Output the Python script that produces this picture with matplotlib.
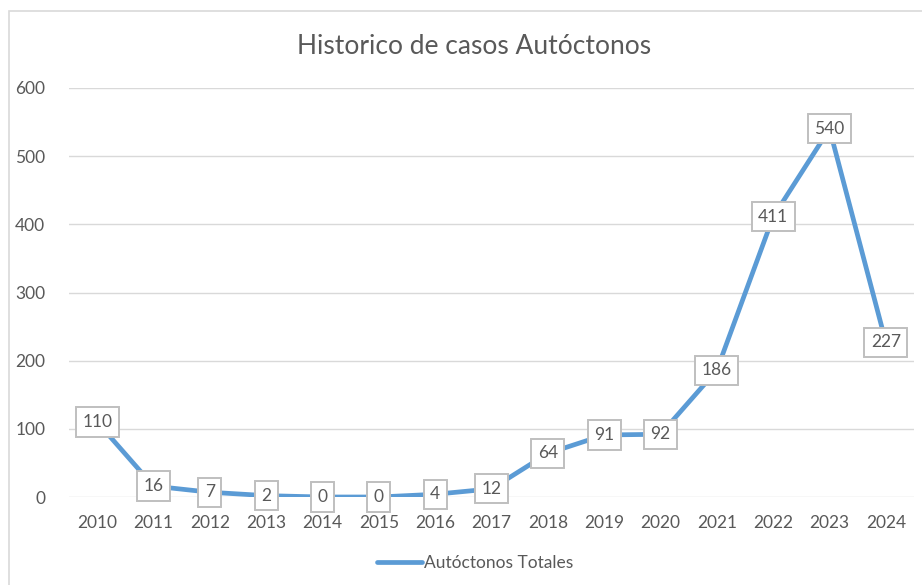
import matplotlib
matplotlib.use("Agg")
import matplotlib.pyplot as plt
from matplotlib.patches import Rectangle

years = ["2010", "2011", "2012", "2013", "2014", "2015", "2016", "2017",
         "2018", "2019", "2020", "2021", "2022", "2023", "2024"]
values = [110, 16, 7, 2, 0, 0, 4, 12, 64, 91, 92, 186, 411, 540, 227]
yticks = [0, 100, 200, 300, 400, 500, 600]
title = "Historico de casos Autóctonos"
series_name = "Autóctonos Totales"

plt.rcParams['font.family'] = ['Lato', 'DejaVu Sans']
txt = "#595959"
blue = "#5B9BD5"

W, H = 922, 585
fig = plt.figure(figsize=(W / 100, H / 100), dpi=100)
ax = fig.add_axes([69 / W, (H - 497) / H, (914 - 69) / W, 409 / H])

x = list(range(len(years)))
ax.plot(x, values, color=blue, lw=3.4, solid_capstyle='round',
        solid_joinstyle='round', label=series_name, zorder=3)
for xi, v in zip(x, values):
    ax.text(xi, v, str(v), ha='center', va='center', fontsize=12.5, color=txt,
            zorder=4,
            bbox=dict(boxstyle='square,pad=0.38', fc='white', ec='#BFBFBF', lw=1.4))

ax.set_xlim(-0.5, len(years) - 0.5)
ax.set_ylim(0, 600)
ax.set_xticks(x)
ax.set_xticklabels(years)
ax.set_yticks(yticks)
ax.set_yticklabels([str(t) for t in yticks])
ax.tick_params(axis='both', length=0, labelsize=12.5, colors=txt)
ax.tick_params(axis='y', pad=17)
ax.tick_params(axis='x', pad=13)
ax.grid(axis='y', color='#D9D9D9', lw=1)
ax.set_axisbelow(True)
for s in ax.spines.values():
    s.set_visible(False)

fig.text(474 / W, 1 - 47 / H, title, ha='center', va='center', fontsize=19, color=txt)

fig.legend(loc='center', bbox_to_anchor=(475 / W, 1 - 563 / H), frameon=False,
           fontsize=12.5, labelcolor=txt, handlelength=2.6, handletextpad=0.15)

fig.patches.append(Rectangle((9 / W, -0.1), 2, 1 - 11 / H + 0.1, transform=fig.transFigure,
                             fill=False, ec='#D9D9D9', lw=1.2, zorder=0))

fig.savefig("out.png", dpi=100, facecolor='white')
